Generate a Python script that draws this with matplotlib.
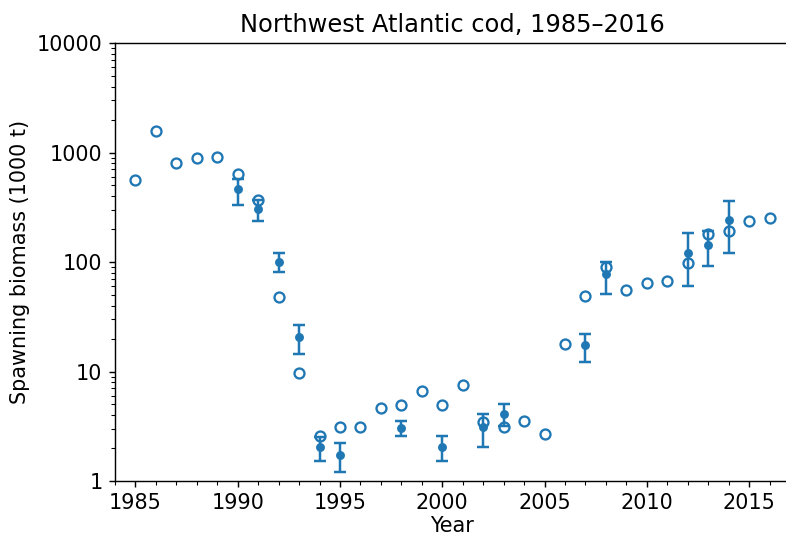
import matplotlib
matplotlib.use("Agg")
import matplotlib.pyplot as plt
from matplotlib.ticker import MultipleLocator, FixedLocator, FixedFormatter, LogLocator

plt.rcParams["font.size"] = 11.7
plt.rcParams["axes.titlesize"] = 13.6

# open circles: yearly estimates, 1985-2016
years = list(range(1985, 2017))
biomass = [555, 1580, 810, 885, 910, 630, 365, 48, 9.7, 2.6, 3.1, 3.1, 4.6, 4.9,
           6.7, 4.9, 7.5, 3.45, 3.1, 3.5, 2.7, 17.8, 49, 90, 55, 64, 67, 98, 182, 190, 235, 252]

# filled dots with error bars
ci_years = [1990, 1991, 1992, 1993, 1994, 1995, 1998, 2000, 2002, 2003, 2007, 2008, 2012, 2013, 2014]
ci_mid = [460, 305, 100, 20.5, 2.05, 1.74, 3.05, 2.05, 3.1, 4.05, 17.3, 77, 122, 143, 240]
ci_low = [335, 235, 81, 14.3, 1.52, 1.22, 2.57, 1.52, 2.05, 3.15, 12.2, 51, 60, 92, 121]
ci_high = [575, 372, 122, 26.5, 2.52, 2.22, 3.55, 2.55, 4.05, 5.1, 22.2, 101, 183, 192, 360]

blue = "#1f77b4"

fig = plt.figure(figsize=(786 / 128, 539 / 128), dpi=128)
ax = fig.add_axes([115 / 786, 1 - 481 / 539, 675 / 786, 438 / 539])

yerr = [[m - l for m, l in zip(ci_mid, ci_low)], [h - m for m, h in zip(ci_mid, ci_high)]]
ax.errorbar(ci_years, ci_mid, yerr=yerr, fmt="o", color=blue, markersize=4,
            elinewidth=1.4, capsize=3.5, capthick=1.4, zorder=3)
ax.plot(years, biomass, "o", markerfacecolor="none", markeredgecolor=blue,
        markersize=5.6, markeredgewidth=1.3, zorder=4)

ax.set_yscale("log")
ax.set_ylim(1, 10000)
ax.set_xlim(1984, 2017)
ax.yaxis.set_major_locator(FixedLocator([1, 10, 100, 1000, 10000]))
ax.yaxis.set_major_formatter(FixedFormatter(["1", "10", "100", "1000", "10000"]))
ax.yaxis.set_minor_locator(LogLocator(base=10, subs=range(2, 10)))
ax.xaxis.set_major_locator(MultipleLocator(5))
ax.xaxis.set_minor_locator(MultipleLocator(1))

ax.spines["right"].set_visible(False)
ax.set_xlabel("Year", labelpad=1.5)
ax.set_ylabel("Spawning biomass (1000 t)")
ax.set_title("Northwest Atlantic cod, 1985\u20132016")

fig.savefig("out.png", dpi=128)
